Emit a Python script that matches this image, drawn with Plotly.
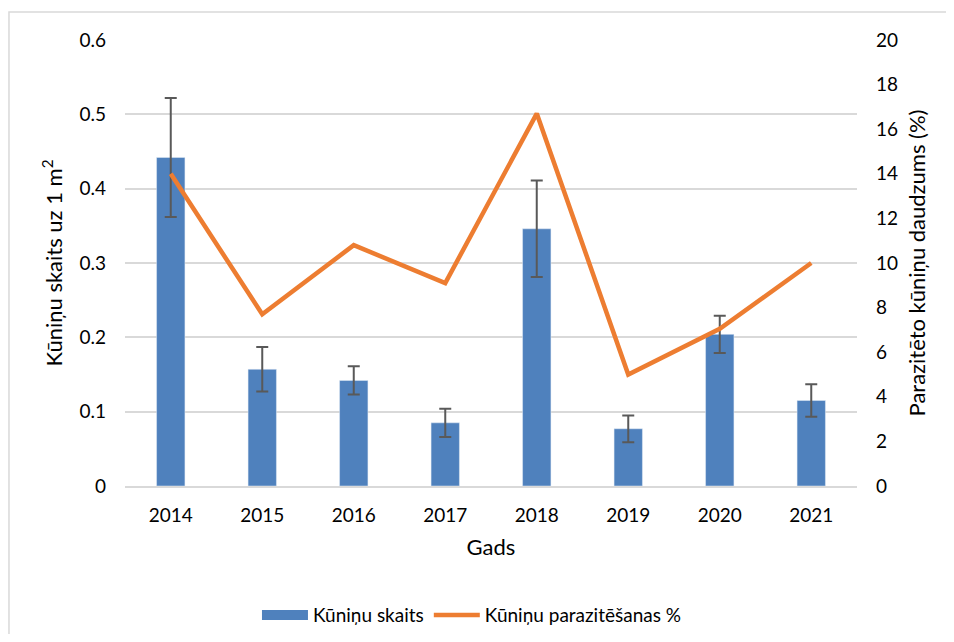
import plotly.graph_objects as go

years = ["2014", "2015", "2016", "2017", "2018", "2019", "2020", "2021"]
count = [0.442, 0.157, 0.142, 0.085, 0.346, 0.077, 0.204, 0.115]
count_err = [0.080, 0.030, 0.019, 0.019, 0.065, 0.018, 0.025, 0.022]
parasit_pct = [14.0, 7.7, 10.8, 9.1, 16.7, 5.0, 7.05, 10.0]

font = "Lato, 'Noto Sans', sans-serif"
blue = "#4F81BD"
orange = "#ED7D31"
big = dict(family=font, size=19, color="#000000")

fig = go.Figure()
fig.add_trace(go.Bar(
    x=years, y=count, name="Kūniņu skaits", showlegend=False,
    marker=dict(color=blue),
    error_y=dict(type="data", array=count_err, color="#595959",
                 thickness=2, width=6),
))
# legend entry with a wide block like the original
fig.add_trace(go.Scatter(
    x=[None], y=[None], name="Kūniņu skaits", mode="lines",
    line=dict(color=blue, width=12),
))
fig.add_trace(go.Scatter(
    x=years, y=parasit_pct, name="Kūniņu parazitēšanas %",
    mode="lines", line=dict(color=orange, width=4.5),
    yaxis="y2",
))

fig.update_layout(
    width=938, height=626,
    margin=dict(l=117, r=89, t=32, b=148),
    paper_bgcolor="white", plot_bgcolor="white",
    font=dict(family=font, size=18, color="#000000"),
    bargap=0.69,
    xaxis=dict(
        title=dict(text="Gads", standoff=15),
        showgrid=False, showline=True, linecolor="#d9d9d9", linewidth=2,
        ticks="", ticklabelstandoff=11, tickfont=big,
    ),
    yaxis=dict(
        title=dict(text="Kūniņu skaits uz 1 m<sup>2</sup>", standoff=10),
        range=[0, 0.6], dtick=0.1, showgrid=True, gridcolor="#d9d9d9",
        gridwidth=1.5, zeroline=False, ticks="", ticklabelstandoff=18,
        tickfont=big,
    ),
    yaxis2=dict(
        title=dict(text="Parazitēto kūniņu daudzums (%)", standoff=12),
        range=[0, 20], dtick=2, overlaying="y", side="right",
        showgrid=False, zeroline=False, ticks="", ticklabelstandoff=18,
        tickfont=big,
    ),
    legend=dict(orientation="h", x=0.474, xanchor="center",
                yref="container", y=0.03, yanchor="middle",
                font=big, itemwidth=46, traceorder="normal"),
    shapes=[dict(type="rect", xref="paper", yref="paper",
                 x0=-0.1585, x1=1.13, y0=-0.348, y1=1.063,
                 line=dict(color="#d9d9d9", width=1.5), layer="below")],
)

fig.write_html("out.html")
